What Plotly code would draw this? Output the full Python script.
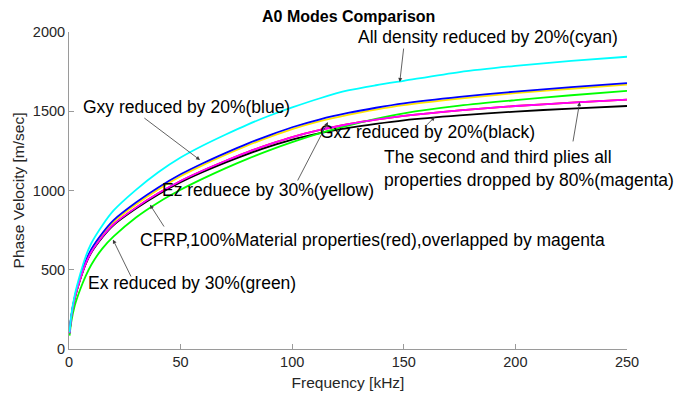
import plotly.graph_objects as go

# Frequency samples [kHz]
freq = [0.25, 1, 2.5, 5, 7.5, 10, 15, 20, 30, 40, 50, 60, 70, 80, 90, 100,
        112.5, 125, 137.5, 150, 175, 200, 225, 250]

# A0 phase velocity [m/s] for each material case
v_red = [100, 200, 315, 440, 540, 612, 710, 787, 892, 982, 1060, 1126, 1186, 1242, 1292, 1337,
         1382, 1418, 1447, 1471, 1506, 1533, 1554, 1573]
v_magenta = [100, 200, 315, 440, 540, 612, 710, 787, 892, 982, 1060, 1126, 1186, 1242, 1292, 1337,
             1382, 1418, 1447, 1471, 1506, 1533, 1554, 1573]
v_black = [100, 200, 314, 438, 537, 609, 706, 782, 886, 975, 1052, 1117, 1176, 1230, 1278, 1321,
           1362, 1395, 1421, 1443, 1474, 1498, 1517, 1533]
v_green = [85, 170, 270, 375, 462, 532, 635, 710, 830, 925, 1005, 1075, 1140, 1200, 1255, 1305,
           1362, 1410, 1452, 1487, 1535, 1570, 1601, 1628]
v_yellow = [100, 203, 319, 446, 547, 621, 722, 802, 912, 1007, 1090, 1160, 1224, 1284, 1338, 1387,
            1437, 1477, 1510, 1538, 1579, 1614, 1642, 1668]
v_blue = [100, 205, 323, 452, 555, 630, 732, 813, 924, 1019, 1102, 1172, 1236, 1296, 1350, 1399,
          1449, 1489, 1522, 1550, 1591, 1624, 1652, 1678]
v_cyan = [106, 212, 335, 471, 584, 667, 781, 874, 1004, 1115, 1208, 1284, 1352, 1416, 1473, 1524,
          1582, 1631, 1664, 1692, 1747, 1786, 1818, 1844]

series = [
    ("red", v_red, "#FF0000"),
    ("black", v_black, "#000000"),
    ("green", v_green, "#00FF00"),
    ("yellow", v_yellow, "#FFE600"),
    ("blue", v_blue, "#0000FF"),
    ("magenta", v_magenta, "#FF00FF"),
    ("cyan", v_cyan, "#00FFFF"),
]

FONT = "Liberation Sans, Arial, Helvetica, sans-serif"

fig = go.Figure()
for name, vals, color in series:
    fig.add_trace(go.Scatter(
        x=freq, y=vals, mode="lines", name=name,
        line=dict(color=color, width=1.8, shape="spline", smoothing=0.8),
        showlegend=False,
    ))

# Label texts: (text, x, y) anchored on their left edge
labels = [
    ("All density reduced by 20%(cyan)", 128.5, 1968),
    ("Gxy reduced by 20%(blue)", 5.4, 1527),
    ("Gxz reduced by 20%(black)", 111.5, 1369),
    ("The second and third plies all", 140.2, 1211),
    ("properties dropped by 80%(magenta)", 140.2, 1066),
    ("Ez reduece by 30%(yellow)", 40.7, 1003),
    ("CFRP,100%Material properties(red),overlapped by magenta", 30.9, 688),
    ("Ex reduced by 30%(green)", 7.6, 416),
]

# Pointer arrows: (tail x, tail y, head x, head y)
arrows = [
    (150.0, 1905, 148.2, 1685),
    (33.1, 1464, 58.7, 1192),
    (102.1, 1054, 116.0, 1432),
    (159.4, 1401, 163.9, 1464),
    (225.7, 1300, 228.8, 1558),
    (43.0, 763, 36.3, 910),
    (28.1, 448, 19.7, 690),
]

annotations = []
for text, x, y in labels:
    annotations.append(dict(
        text=text, x=x, y=y, xref="x", yref="y",
        xanchor="left", yanchor="middle", showarrow=False,
        font=dict(family=FONT, size=17.5, color="#000000"),
    ))
for tx, ty, hx, hy in arrows:
    annotations.append(dict(
        text="", x=hx, y=hy, ax=tx, ay=ty, xref="x", yref="y",
        axref="x", ayref="y", showarrow=True, arrowhead=2,
        arrowsize=1.0, arrowwidth=0.8, arrowcolor="#3a3a3a", standoff=0,
    ))

annotations.append(dict(
    text="<b>A0 Modes Comparison</b>", x=0.5, y=1, xref="paper", yref="paper",
    xanchor="center", yanchor="bottom", yshift=5, showarrow=False,
    font=dict(family=FONT, size=16, color="#000000"),
))

axis_common = dict(
    showgrid=False, zeroline=False, showline=True, linecolor="#9a9a9a",
    linewidth=1, ticks="inside", ticklen=5, tickcolor="#9a9a9a",
    tickfont=dict(family=FONT, size=14.5, color="#262626"),
    mirror=False, automargin=False,
)

fig.update_layout(
    width=679, height=396,
    margin=dict(l=69, r=52, t=32, b=47),
    paper_bgcolor="white", plot_bgcolor="white",
    annotations=annotations,
    xaxis=dict(
        range=[0, 250], tickvals=[0, 50, 100, 150, 200, 250],
        title=dict(text="Frequency [kHz]", font=dict(family=FONT, size=15.5, color="#262626"), standoff=7),
        **axis_common,
    ),
    yaxis=dict(
        range=[0, 2000], tickvals=[0, 500, 1000, 1500, 2000],
        title=dict(text="Phase Velocity [m/sec]", font=dict(family=FONT, size=15.5, color="#262626"), standoff=4),
        **axis_common,
    ),
)

fig.write_html("out.html")
